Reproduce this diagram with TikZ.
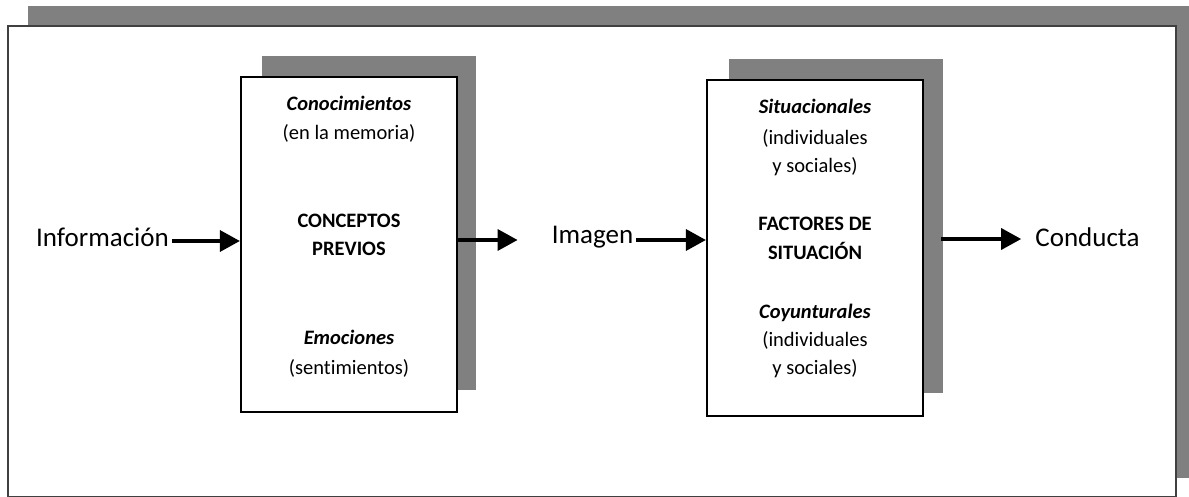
\documentclass[tikz,border=0pt]{standalone}
\usepackage{fontspec}
\setmainfont[Ligatures=NoCommon]{Carlito}
\usetikzlibrary{arrows.meta}
\begin{document}
\begin{tikzpicture}[x=1pt,y=-1pt,
  shadowbox/.style={fill=black!50,draw=none},
  mainbox/.style={draw=black,line width=2.2pt,fill=white,minimum width=216pt,inner sep=0pt},
  lbl/.style={font=\fontsize{27}{32}\selectfont,inner sep=0pt},
  inb/.style={font=\fontsize{20.5}{24}\selectfont,inner sep=0pt,anchor=base},
  arr/.style={line width=3.5pt,-{Triangle[length=20pt,width=21pt]}}]
\useasboundingbox (0,0) rectangle (1189,497);
% outer frame
\fill[black!50] (28,6) rectangle (1189,478);
\draw[draw=black!75,line width=2pt,fill=white] (8,26) rectangle (1176,497);
% box shadows
\fill[black!50] (262,56) rectangle (476,390);
\fill[black!50] (729,59) rectangle (943,393);
% boxes
\node[mainbox,minimum height=335pt] (b1) at (349,244.5) {};
\node[mainbox,minimum height=336pt] (b2) at (815,248) {};
% box 1 text
\node[inb] (t11) at (349,111) {\textbf{\textit{Conocimientos}}};
\node[inb] (t12) at (349,140) {(en la memoria)};
\node[inb] (t13) at (349,228) {\textbf{CONCEPTOS}};
\node[inb] (t14) at (349,256) {\textbf{PREVIOS}};
\node[inb] (t15) at (349,344) {\textbf{\textit{Emociones}}};
\node[inb] (t16) at (349,374) {(sentimientos)};
% box 2 text
\node[inb] (t21) at (815,114) {\textbf{\textit{Situacionales}}};
\node[inb] (t22) at (815,145) {(individuales};
\node[inb] (t23) at (815,173) {y sociales)};
\node[inb] (t24) at (815,231) {\textbf{FACTORES DE}};
\node[inb] (t25) at (815,259) {\textbf{SITUACIÓN}};
\node[inb] (t26) at (815,318) {\textbf{\textit{Coyunturales}}};
\node[inb] (t27) at (815,346) {(individuales};
\node[inb] (t28) at (815,374) {y sociales)};
% outer labels
\node[lbl] (info) at (102.5,237) {Información};
\node[lbl] (img) at (592.5,237) {Imagen};
\node[lbl] (cond) at (1087.5,237) {Conducta};
\coordinate (imgin) at ([xshift=-34pt,yshift=-3pt]img.west);
% arrows
\draw[arr] ([xshift=3pt,yshift=-4pt]info.east) -- ([yshift=-4pt]info.east -| b1.west);
\draw[arr] ([yshift=4.5pt]b1.east) -- (imgin);
\draw[arr] ([xshift=3pt,yshift=-3pt]img.east) -- ([yshift=-3pt]img.east -| b2.west);
\draw[arr] ([xshift=17pt,yshift=9pt]b2.east) -- ([xshift=-14pt,yshift=-2pt]cond.west);
\end{tikzpicture}
\end{document}
